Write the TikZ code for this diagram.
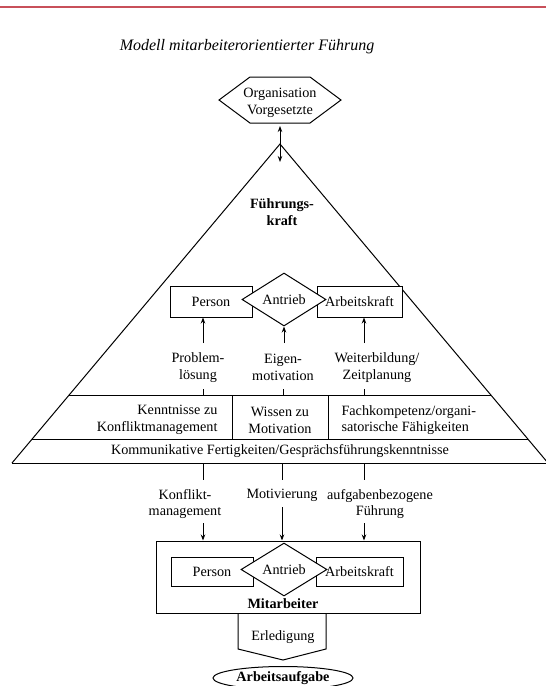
\documentclass[tikz,border=0pt]{standalone}
\usepackage{fontspec}
\setmainfont{Liberation Serif}
\usetikzlibrary{shapes.geometric,arrows.meta}
\definecolor{redline}{RGB}{200,80,90}
\begin{document}
\begin{tikzpicture}[x=1pt,y=-1pt,line width=1pt,
  every node/.style={font=\fontsize{14.2}{16.8}\selectfont, inner sep=0pt},
  bold/.style={font=\fontsize{14.2}{16.8}\selectfont\bfseries},
  box/.style={draw, fill=white, minimum height=31pt},
  dia/.style={draw, fill=white, diamond, aspect=1.6, minimum width=84pt, minimum height=53pt},
  arr/.style={-{Stealth[length=6pt,width=4.5pt]}},
  darr/.style={{Stealth[length=6pt,width=4.5pt]}-{Stealth[length=6pt,width=4.5pt]}},
  lbl/.style={align=center}
]
\useasboundingbox (0,0) rectangle (546,686);
\clip (0,0) rectangle (546,686);

% header rule and title
\draw[redline, line width=1.5pt] (0,7) -- (546,7);
\node[font=\fontsize{16}{19}\selectfont\itshape] (title) at (247,47) {Modell mitarbeiterorientierter Führung};

% hexagon
\draw (219,100) -- (250,77) -- (310,77) -- (341,100) -- (310,123) -- (250,123) -- cycle;
\node[lbl] (org) at (280,103) {Organisation\\Vorgesetzte};
\coordinate (hexb) at (280,126);
\coordinate (apex) at (280,144);
\coordinate (inap) at (280,162);
\draw[darr] (hexb) -- (inap);

% triangle
\coordinate (bl) at (12,463);
\coordinate (br) at (548,463);
\draw (bl) -- (apex) -- (br);
\draw (bl) -- (br);
\coordinate (b1l) at (69.2,395);
\coordinate (b1r) at (490.8,395);
\coordinate (b2l) at (32.2,439);
\coordinate (b2r) at (527.8,439);
\draw (b1l) -- (b1r);
\draw (b2l) -- (b2r);
\draw (232,395) -- (232,439);
\draw (328,395) -- (328,439);

\node[bold, lbl] (fk) at (282,212) {Führungs-\\kraft};

% top row
\node[box, minimum width=82pt] (p1) at (211,301.5) {Person};
\node[box, minimum width=85pt] (a1) at (359.5,301.5) {Arbeitskraft};
\node[dia] (d1) at (284,299.5) {Antrieb};

\node[lbl] (l1) at (198,367.5) {Problem-\\lösung};
\node[lbl] (l2) at (283,367.5) {Eigen-\\motivation};
\node[lbl] (l3) at (377,367.5) {Weiterbildung/\\Zeitplanung};

\coordinate (u1) at (203,343);
\coordinate (u2) at (284,343);
\coordinate (u3) at (364,343);
\draw[arr] (u1) -- (u1 |- p1.south);
\draw[arr] (u2) -- (d1.south);
\draw[arr] (u3) -- (u3 |- a1.south);

\coordinate (t1) at (203,389);
\coordinate (t2) at (283,389);
\coordinate (t3) at (364,389);
\draw (t1) -- (t1 |- b1l);
\draw (t2) -- (t2 |- b1l);
\draw (t3) -- (t3 |- b1l);

% bands
\node[align=right, anchor=east] (k1) at (218,420) {Kenntnisse zu\\Konfliktmanagement};
\node[lbl] (k2) at (280,420) {Wissen zu\\Motivation};
\node[align=left, anchor=west] (k3) at (341,420) {Fachkompetenz/organi-\\satorische Fähigkeiten};
\node (kom) at (280,451) {Kommunikative Fertigkeiten/Gesprächsführungskenntnisse};

% lower connectors
\coordinate (s1) at (203,480);
\coordinate (s2) at (282,480);
\coordinate (s3) at (364,480);
\draw (s1 |- bl) -- (s1);
\draw (s2 |- bl) -- (s2);
\draw (s3 |- bl) -- (s3);

\node[lbl] (m1) at (185,504) {Konflikt-\\management};
\node (m2) at (282,495) {Motivierung};
\node[lbl] (m3) at (380,504) {aufgabenbezogene\\Führung};

% Mitarbeiter
\node[draw, minimum width=264pt, minimum height=72pt] (mit) at (288,577) {};
\coordinate (v1) at (203,523);
\coordinate (v2) at (282,507);
\coordinate (v3) at (364,523);
\draw[arr] (v1) -- (v1 |- mit.north);
\draw[arr] (v2) -- (v2 |- mit.north);
\draw[arr] (v3) -- (v3 |- mit.north);

\node[box, minimum width=82pt, minimum height=29pt] (p2) at (212,571.5) {Person};
\node[box, minimum width=87pt, minimum height=29pt] (a2) at (359.5,571.5) {Arbeitskraft};
\node[dia, minimum width=86pt] (d2) at (284,569.5) {Antrieb};
\node[bold] (mt) at (283,604) {Mitarbeiter};

% Erledigung
\draw (238,613) -- (238,649) -- (283,660) -- (326,649) -- (326,613);
\node (erl) at (283,637) {Erledigung};

\node[draw, ellipse, minimum width=140pt, minimum height=23pt, bold] (aa) at (283,678) {Arbeitsaufgabe};
\end{tikzpicture}
\end{document}
